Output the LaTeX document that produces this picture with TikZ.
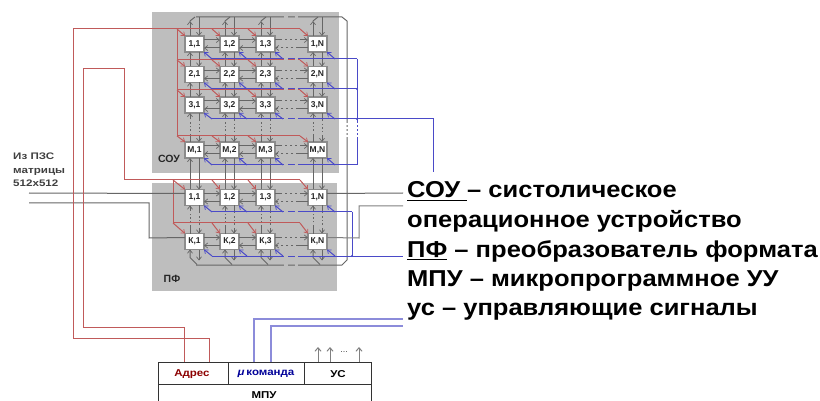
\documentclass[tikz,border=0pt]{standalone}
\usepackage{fontspec}
\setmainfont{Liberation Sans}
\usetikzlibrary{arrows.meta}
\definecolor{panel}{HTML}{BEBEBE}
\definecolor{wirec}{HTML}{666666}
\definecolor{redc}{HTML}{C05A5A}
\definecolor{bluec}{HTML}{4A4AC8}
\definecolor{blued}{HTML}{8C8CDA}
\newcommand\ulx[1]{\setbox0\hbox{#1}\rlap{\rule[-3pt]{\wd0}{1.5pt}}#1}
\tikzset{
  barb/.tip={Straight Barb[length=3.2pt,width=5pt,line width=0.7pt]},
  panelbox/.style={fill=panel,draw=none},
  cell/.style={draw=gray!90,line width=1.1pt,fill=white,minimum width=19pt,minimum height=16pt,inner sep=0pt,outer sep=0pt,font=\bfseries\fontsize{8.5}{8.5}\selectfont,text=black!85},
  wire/.style={color=wirec,line width=1pt},
  redw/.style={color=redc,line width=1pt},
  bluew/.style={color=bluec,line width=1pt},
  bluep/.style={color=blued,line width=1.05pt},
  hgapR/.style={dash pattern=on 7pt off 3pt on 2pt off 3pt on 2pt off 3pt on 2pt off 3pt on 12pt},
  hgapL/.style={dash pattern=on 12pt off 3pt on 2pt off 3pt on 2pt off 3pt on 2pt off 3pt on 7pt},
  vgapU/.style={dash pattern=on 8pt off 3pt on 1.5pt off 2pt on 1.5pt off 2pt on 1.5pt off 3pt on 8pt},
  gapover/.style={color=panel,line width=1.6pt,dash pattern=on 3.5pt off 7pt on 3.5pt},
  big/.style={anchor=base west,inner sep=0pt,xscale=1.11,transform shape,font=\bfseries\fontsize{23}{23}\selectfont},
  small/.style={anchor=base west,inner sep=0pt,xscale=1.22,transform shape,font=\bfseries\fontsize{9.5}{9.5}\selectfont,text=black!75},
  mpu/.style={inner sep=0pt,xscale=1.15,transform shape,font=\bfseries\fontsize{10}{10}\selectfont},
  mpuline/.style={color=black!80,line width=1pt},
  up/.style={color=gray,line width=1pt,-{Straight Barb[length=3.5pt,width=6pt]}},
}
\begin{document}
\begin{tikzpicture}[x=1pt,y=-1pt,>=barb]
\clip (0,0) rectangle (820,401);
\fill[white] (0,0) rectangle (820,401);
% panels
\fill[panelbox] (152,12) rectangle (339,173);
\fill[panelbox] (152,183) rectangle (337,291);
\node[font=\bfseries\fontsize{10.5}{10.5}\selectfont,text=black!85] (lsou) at (169,159) {СОУ};
\node[font=\bfseries\fontsize{10.5}{10.5}\selectfont,text=black!85] (lpf) at (172,279) {ПФ};
% cells
\foreach \rw/\y/\lab in {a1/44/1,a2/74.5/2,a3/105/3,aM/150/М,b1/197.5/1,bK/241.5/К}
  \foreach \cl/\x in {1/194.5,2/229.5,3/265.5,N/317.5}
    \node[cell] (\rw\cl) at (\x,\y) {\lab,\cl};
% horizontal links
\foreach \rw in {a1,a2,a3,aM,b1,bK}{
  \foreach \p/\q in {1/2,2/3}{
    \draw[wire,->] ([yshift=4pt]\rw\p.east) -- ([yshift=4pt]\rw\q.west);
    \draw[wire,->] ([yshift=-4pt]\rw\q.west) -- ([yshift=-4pt]\rw\p.east);
  }
  \draw[wire,->,hgapR] ([yshift=4pt]\rw 3.east) -- ([yshift=4pt]\rw N.west);
  \draw[wire,->,hgapL] ([yshift=-4pt]\rw N.west) -- ([yshift=-4pt]\rw 3.east);
}
% vertical links
\foreach \cl in {1,2,3,N}{
  \foreach \upr/\lowr in {a1/a2,a2/a3,aM/b1}{
    \draw[wire,->] ([xshift=-4.5pt]\lowr\cl.north) -- ([xshift=-4.5pt]\upr\cl.south);
    \draw[wire,->] ([xshift=4.5pt]\upr\cl.south) -- ([xshift=4.5pt]\lowr\cl.north);
  }
  \foreach \upr/\lowr in {a3/aM,b1/bK}{
    \draw[wire,->,vgapU] ([xshift=-4.5pt]\lowr\cl.north) -- ([xshift=-4.5pt]\upr\cl.south);
    \draw[wire,->,vgapU] ([xshift=4.5pt]\upr\cl.south) -- ([xshift=4.5pt]\lowr\cl.north);
  }
}
% ring bus
\coordinate (bt) at (196,17);
\coordinate (bb) at (196,265);
\draw[wire] (bt) -- (342,17) -- (347,21) -- (347,260) -- (342,265) -- (bb);
\foreach \cl in {1,2,3,N}{
  \draw[wire,->] ([xshift=-4.5pt]a1\cl.north) -- ++(0,-15);
  \draw[wire] ([xshift=-4.5pt,yshift=15pt]a1\cl.north) -- ++(5,-4);
  \draw[wire,->] ([xshift=4.5pt]a1\cl.north |- bt) -- ([xshift=4.5pt]a1\cl.north);
  \draw[wire,<-] ([xshift=-4.5pt]bK\cl.south) -- ++(0,8) -- ++(7,7);
  \draw[wire,->] ([xshift=4.5pt]bK\cl.south) -- ++(0,11);
}
\draw[gapover] (284,17) -- (298,17);
\draw[gapover] (284,265) -- (298,265);
% red control lines
\foreach \rw/\ry/\rx in {a1/29/177,a2/60/177,a3/90/177,aM/136/177,b1/180/173,bK/223/173}{
  \coordinate (rs) at (\rx,\ry);
  \coordinate (re) at (300,\ry);
  \draw[redw] (rs) -- (re);
  \draw[redw,->] (rs) -- (\rw 1.north west);
  \foreach \cl in {2,3,N}
    \draw[redw,->] ([xshift=-8pt]\rw\cl.north west |- rs) -- (\rw\cl.north west);
}
\draw[redw] (177,29) -- (177,136);
\draw[redw] (173,180) -- (173,223);
\draw[gapover] (284,60) -- (298,60);
\draw[gapover] (284,90) -- (298,90);
% blue control lines
\foreach \rw/\by/\bx in {a1/59/357,a2/89/357,a3/119/357,aM/165/357,b1/212/352,bK/256/352}{
  \coordinate (bs) at (\bx,\by);
  \draw[bluew] (bs) -- ([xshift=8pt]\rw 1.south east |- bs);
  \foreach \cl in {1,2,3,N}
    \draw[bluew,->] ([xshift=8pt]\rw\cl.south east |- bs) -- (\rw\cl.south east);
}
\foreach \by in {59,89,119,165,212,256}
  \draw[gapover] (284,\by) -- (298,\by);
\draw[bluew] (357,59) -- (357,165);
\draw[bluew] (352,212) -- (352,256);
\draw[white,line width=1.6pt,dash pattern=on 2pt off 2pt] (347,123) -- (347,137);
\draw[white,line width=1.6pt,dash pattern=on 2pt off 2pt] (357,123) -- (357,137);
\fill[bluec] (357,89) circle (1.2pt) (357,119) circle (1.2pt) (352,256) circle (1.2pt);
\draw[bluew] (357,119) -- (433,119) -- (433,172);
% left inputs and right outputs
\coordinate (inA) at (29,193);
\coordinate (inB) at (29,203);
\coordinate (outA) at (403,193);
\coordinate (outB) at (403,206);
\draw[wire] (inA) -- ([yshift=4pt]b11.west);
\draw[wire] (inB) -- (149,203) -- (149,238) -- ([yshift=4pt]bK1.west);
\draw[wire] ([yshift=4pt]b1N.east) -- (outA);
\draw[color=gray,line width=1pt] ([yshift=4pt]bKN.east) -- (359,238) -- (359,206) -- (outB);
\draw[color=bluec,line width=1pt] (352,256) -- (403,256);
% MPU
\draw[mpuline] (158,405) -- (158,362) -- (371,362) -- (371,405);
\draw[mpuline] (158,384) -- (371,384);
\draw[mpuline] (228,362) -- (228,384);
\draw[mpuline] (304,362) -- (304,384);
\node[mpu,text=red!55!black] (adr) at (192,374) {Адрес};
\node[mpu,text=blue!60!black] (cmd) at (266,374) {{\itshape μ}\,команда};
\node[mpu] (us) at (338,374) {УС};
\node[mpu] (mpuu) at (264,395) {МПУ};
% red to MPU
\draw[redw] (177,29) -- (73,29) -- (73,338) -- (209,338) -- (209,362);
\draw[redw] (173,180) -- (124,180) -- (124,69) -- (83,69) -- (83,327) -- (184,327) -- (184,362);
% blue to MPU
\draw[bluep] (254,362) -- (254,319) -- (403,319);
\draw[bluep] (271,362) -- (271,326) -- (403,326);
% control arrows
\draw[up] (318,362) -- (318,347);
\draw[up] (330,362) -- (330,347);
\draw[up] (359,362) -- (359,347);
\node[inner sep=0pt,font=\fontsize{9}{9}\selectfont,text=black!70] (dots) at (344,352) {...};
% texts
\node[small] (t1) at (13,160) {Из ПЗС};
\node[small] (t2) at (13,174) {матрицы};
\node[small] (t3) at (13,187) {512x512};
\node[big] (l1) at (407,198) {\ulx{СОУ }– систолическое};
\node[big] (l2) at (407,227) {операционное устройство};
\node[big] (l3) at (407,257) {\ulx{ПФ} – преобразователь формата};
\node[big] (l4) at (407,286) {МПУ – микропрограммное УУ};
\node[big] (l5) at (407,315) {ус – управляющие сигналы};
\end{tikzpicture}
\end{document}
